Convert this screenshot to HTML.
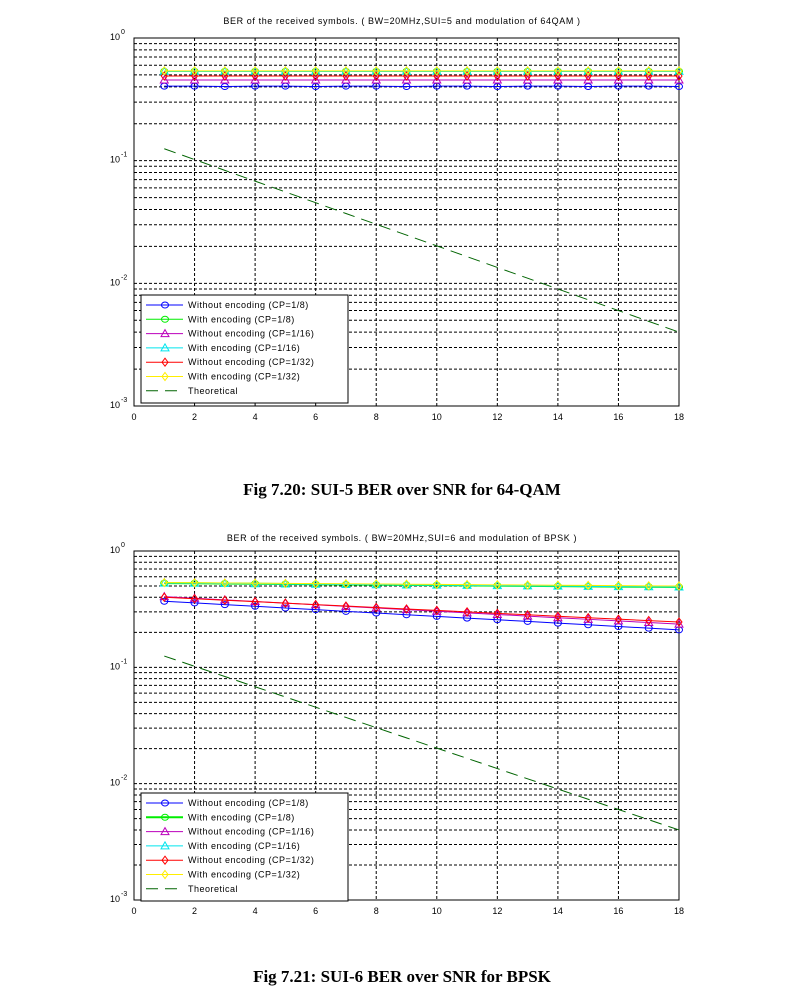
<!DOCTYPE html>
<html><head><meta charset="utf-8"><style>
html,body{margin:0;padding:0;background:#fff;}
svg{display:block}
text{font-family:"Liberation Sans",sans-serif;}
.cap{font-family:"Liberation Serif",serif;font-weight:bold;font-size:17px;}
</style></head><body>
<svg id="s" width="805" height="1006" xmlns="http://www.w3.org/2000/svg">
<text class="cap" x="402" y="495" text-anchor="middle">Fig 7.20: SUI-5 BER over SNR for 64-QAM</text>
<text class="cap" x="402" y="982" text-anchor="middle">Fig 7.21: SUI-6 BER over SNR for BPSK</text>
<text x="402" y="24" font-size="9" text-anchor="middle" letter-spacing="0.6">BER of the received symbols. ( BW=20MHz,SUI=5 and modulation of 64QAM )</text>
<text x="402" y="541" font-size="9" text-anchor="middle" letter-spacing="0.6">BER of the received symbols. ( BW=20MHz,SUI=6 and modulation of BPSK )</text>
</svg>
<script>
const S=document.getElementById('s'),NS='http://www.w3.org/2000/svg';
function el(t,a,txt){const e=document.createElementNS(NS,t);for(const k in a)e.setAttribute(k,a[k]);if(txt!=null)e.textContent=txt;S.appendChild(e);return e;}
function plot(top,bot,series,legY,labels){
 const L=134,R=679,dec=(bot-top)/3;
 const X=x=>L+(R-L)*x/18, Y=v=>top+(-Math.log10(v))*dec;
 for(let d=0;d<3;d++)for(let m=1;m<10;m++){const v=m*Math.pow(10,-d-1);if(d==2&&m==1)continue;const y=Y(v);
  el('line',{x1:L,x2:R,y1:y,y2:y,stroke:'#000','stroke-width':1,'stroke-dasharray':'3,2'});}
 for(let x=2;x<18;x+=2)el('line',{x1:X(x),x2:X(x),y1:top,y2:bot,stroke:'#000','stroke-width':1,'stroke-dasharray':'3,2'});
 el('rect',{x:L,y:top,width:R-L,height:bot-top,fill:'none',stroke:'#000','stroke-width':1});
 for(let x=0;x<=18;x+=2)el('text',{x:X(x),y:bot+14,'font-size':9,'text-anchor':'middle'},String(x));
 for(let d=0;d<=3;d++){const y=top+d*dec;el('text',{x:L-24,y:y+2,'font-size':9},'10');el('text',{x:L-13,y:y-4,'font-size':7},d?'-'+d:'0');}
 series.forEach(s=>{let pts=[];for(let i=1;i<=18;i++)pts.push([X(i),Y(s.f(i))]);
  el('polyline',{points:pts.map(p=>p.join(',')).join(' '),fill:'none',stroke:s.c,'stroke-width':s.w||1,'stroke-dasharray':s.d||'none'});
  if(s.m)pts.forEach(p=>mark(s.m,p[0],p[1],s.c));});
 el('rect',{x:141,y:legY,width:207,height:108,fill:'#fff',stroke:'#000','stroke-width':1});
 series.forEach((s,i)=>{const y=legY+10+i*14.3;
  el('line',{x1:146,x2:183,y1:y,y2:y,stroke:s.c,'stroke-width':s.w||1,'stroke-dasharray':s.d?'12,7':'none'});
  if(s.m)mark(s.m,165,y,s.c);
  el('text',{x:188,y:y+3,'font-size':9,'letter-spacing':'0.5'},labels[i]);});
}
function mark(m,x,y,c){
 if(m=='o')el('ellipse',{cx:x,cy:y,rx:3.5,ry:3,fill:'none',stroke:c});
 else if(m=='^')el('polygon',{points:`${x},${y-4} ${x-4},${y+3} ${x+4},${y+3}`,fill:'none',stroke:c});
 else if(m=='d')el('polygon',{points:`${x},${y-4} ${x+3},${y} ${x},${y+4} ${x-3},${y}`,fill:'none',stroke:c});
}
const th=i=>0.125*Math.pow(0.004/0.125,(i-1)/17);
const lab1=['Without encoding (CP=1/8)','With encoding (CP=1/8)','Without encoding (CP=1/16)','With encoding (CP=1/16)','Without encoding (CP=1/32)','With encoding (CP=1/32)','Theoretical'];
const lab2=['Without encoding  (CP=1/8)','With encoding  (CP=1/8)','Without encoding  (CP=1/16)','With encoding  (CP=1/16)','Without encoding  (CP=1/32)','With encoding  (CP=1/32)','Theoretical'];
plot(38,406,[
 {c:'#0000ff',m:'o',f:i=>0.405-0.003*(i%3==0)},
 {c:'#00ee00',m:'o',f:i=>0.535},
 {c:'#bb00bb',m:'^',f:i=>0.455},
 {c:'#00e5ee',m:'^',f:i=>0.535},
 {c:'#ff0000',m:'d',f:i=>0.49},
 {c:'#ffee00',m:'d',f:i=>0.54},
 {c:'#006400',d:'12,7',f:th}],295,lab1);
const lerp=(a,b)=>i=>a*Math.pow(b/a,(i-1)/17);
plot(551,900,[
 {c:'#0000ff',m:'o',f:lerp(0.37,0.21)},
 {c:'#00ee00',m:'o',w:2,f:lerp(0.53,0.49)},
 {c:'#bb00bb',m:'^',f:lerp(0.405,0.235)},
 {c:'#00e5ee',m:'^',f:lerp(0.53,0.49)},
 {c:'#ff0000',m:'d',f:lerp(0.4,0.245)},
 {c:'#ffee00',m:'d',f:lerp(0.535,0.5)},
 {c:'#006400',d:'12,7',f:th}],793,lab2);
</script>
</body></html>
